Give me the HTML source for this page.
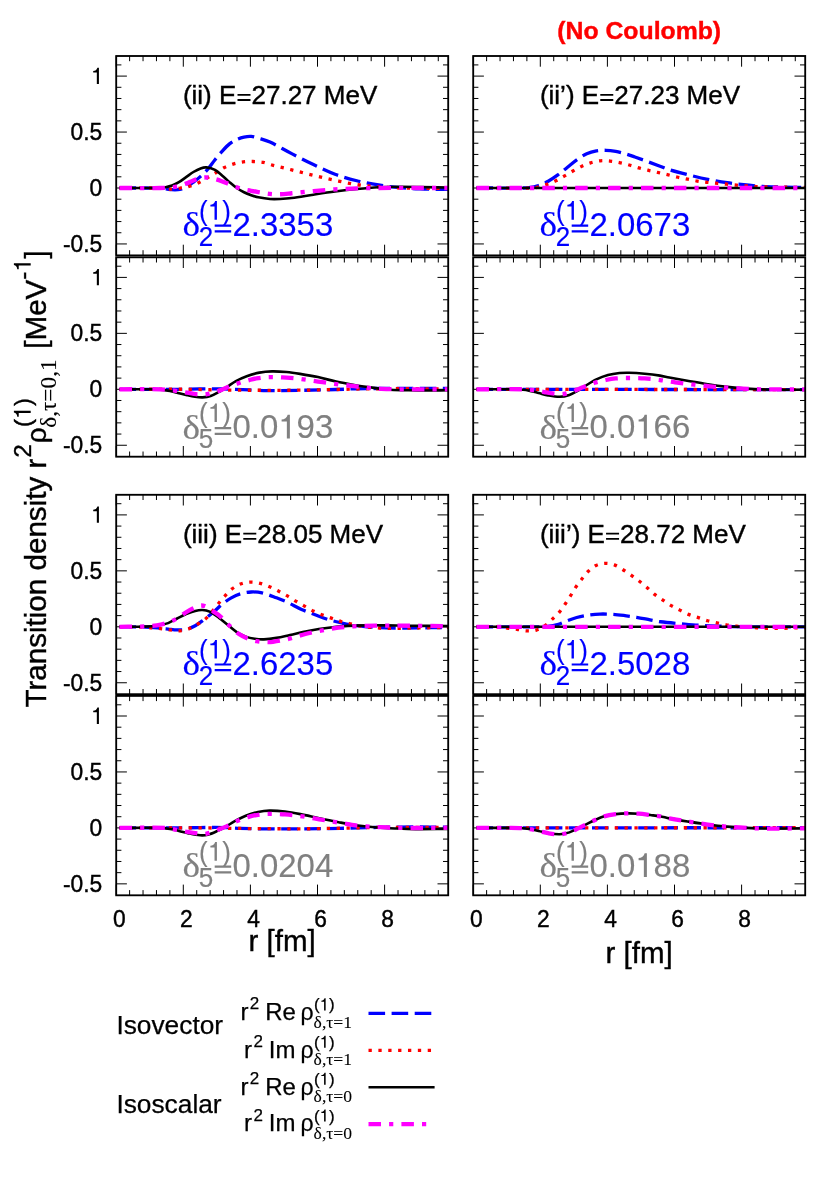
<!DOCTYPE html>
<html><head><meta charset="utf-8"><title>Transition density</title>
<style>html,body{margin:0;padding:0;background:#fff}svg{display:block;will-change:transform}text{white-space:pre;stroke:#000;stroke-width:.4px}.cb text{stroke:#0000ff}.cg text{stroke:#808080}.lg text{stroke-width:.25px}</style></head>
<body>
<svg width="830" height="1186" viewBox="0 0 830 1186">
<rect width="830" height="1186" fill="#fff"/>
<clipPath id="c00"><rect x="116.20" y="56.00" width="332.00" height="199.40"/></clipPath>
<path d="M116.20,56.00v10.70M116.20,255.40v-10.70M129.62,56.00v5.20M129.62,255.40v-5.20M143.04,56.00v5.20M143.04,255.40v-5.20M156.46,56.00v5.20M156.46,255.40v-5.20M169.88,56.00v5.20M169.88,255.40v-5.20M183.30,56.00v10.70M183.30,255.40v-10.70M196.72,56.00v5.20M196.72,255.40v-5.20M210.14,56.00v5.20M210.14,255.40v-5.20M223.56,56.00v5.20M223.56,255.40v-5.20M236.98,56.00v5.20M236.98,255.40v-5.20M250.40,56.00v10.70M250.40,255.40v-10.70M263.82,56.00v5.20M263.82,255.40v-5.20M277.24,56.00v5.20M277.24,255.40v-5.20M290.66,56.00v5.20M290.66,255.40v-5.20M304.08,56.00v5.20M304.08,255.40v-5.20M317.50,56.00v10.70M317.50,255.40v-10.70M330.92,56.00v5.20M330.92,255.40v-5.20M344.34,56.00v5.20M344.34,255.40v-5.20M357.76,56.00v5.20M357.76,255.40v-5.20M371.18,56.00v5.20M371.18,255.40v-5.20M384.60,56.00v10.70M384.60,255.40v-10.70M398.02,56.00v5.20M398.02,255.40v-5.20M411.44,56.00v5.20M411.44,255.40v-5.20M424.86,56.00v5.20M424.86,255.40v-5.20M438.28,56.00v5.20M438.28,255.40v-5.20M116.20,243.95h10.70M448.20,243.95h-10.70M116.20,232.76h5.20M448.20,232.76h-5.20M116.20,221.57h5.20M448.20,221.57h-5.20M116.20,210.38h5.20M448.20,210.38h-5.20M116.20,199.19h5.20M448.20,199.19h-5.20M116.20,188.00h10.70M448.20,188.00h-10.70M116.20,176.81h5.20M448.20,176.81h-5.20M116.20,165.62h5.20M448.20,165.62h-5.20M116.20,154.43h5.20M448.20,154.43h-5.20M116.20,143.24h5.20M448.20,143.24h-5.20M116.20,132.05h10.70M448.20,132.05h-10.70M116.20,120.86h5.20M448.20,120.86h-5.20M116.20,109.67h5.20M448.20,109.67h-5.20M116.20,98.48h5.20M448.20,98.48h-5.20M116.20,87.29h5.20M448.20,87.29h-5.20M116.20,76.10h10.70M448.20,76.10h-10.70M116.20,64.91h5.20M448.20,64.91h-5.20" stroke="#000" stroke-width="1" fill="none"/>
<g clip-path="url(#c00)" fill="none">
<path d="M119.50,188.00C126.33,188.00 133.17,187.96 140.00,188.00C146.00,188.03 152.00,188.02 158.00,188.22C160.67,188.32 163.33,188.61 166.00,188.90C167.90,189.10 169.80,189.55 171.70,189.68C173.80,189.82 175.90,189.84 178.00,189.68C179.33,189.58 180.67,189.28 182.00,188.90C183.37,188.50 184.73,188.13 186.10,187.33C188.53,185.90 190.97,184.02 193.40,182.18C195.80,180.37 198.20,178.53 200.60,176.36C203.00,174.20 205.40,171.96 207.80,169.20C210.20,166.44 212.60,162.80 215.00,159.80C217.43,156.76 219.87,153.74 222.30,151.07C224.70,148.44 227.10,145.83 229.50,143.91C231.90,141.99 234.30,140.68 236.70,139.55C239.13,138.40 241.57,137.61 244.00,137.09C246.40,136.57 248.80,136.23 251.20,136.41C253.60,136.60 256.00,137.48 258.40,138.20C262.27,139.38 266.13,140.33 270.00,142.12C277.23,145.48 284.47,149.92 291.70,153.65C298.93,157.38 306.17,161.06 313.40,164.50C320.60,167.92 327.80,171.54 335.00,174.24C342.27,176.95 349.53,178.93 356.80,180.73C364.03,182.51 371.27,183.82 378.50,184.98C385.67,186.13 392.83,186.99 400.00,187.66C406.67,188.29 413.33,188.64 420.00,188.90C427.83,189.20 435.67,189.22 443.50,189.34C445.07,189.37 446.63,189.34 448.20,189.34" stroke="#0000ff" stroke-width="3.30" stroke-dasharray="16.6 6.5"/>
<path d="M119.50,188.00C129.67,188.00 139.83,187.89 150.00,188.00C154.00,188.04 158.00,188.23 162.00,188.45C164.73,188.60 167.47,189.03 170.20,189.12C172.13,189.18 174.07,189.11 176.00,188.90C177.47,188.73 178.93,188.29 180.40,188.00C183.53,187.39 186.67,187.14 189.80,186.21C192.93,185.28 196.07,183.90 199.20,182.41C201.83,181.14 204.47,179.46 207.10,177.93C210.00,176.25 212.90,174.53 215.80,172.78C218.70,171.03 221.60,168.84 224.50,167.41C227.63,165.86 230.77,164.75 233.90,163.83C237.00,162.92 240.10,162.31 243.20,161.93C246.43,161.53 249.67,161.41 252.90,161.48C256.43,161.56 259.97,161.75 263.50,162.37C265.67,162.76 267.83,163.92 270.00,164.50C277.23,166.42 284.47,168.06 291.70,169.87C298.93,171.68 306.17,173.62 313.40,175.36C320.60,177.09 327.80,178.74 335.00,180.28C342.27,181.83 349.53,183.54 356.80,184.64C364.03,185.74 371.27,186.32 378.50,186.88C385.67,187.44 392.83,187.84 400.00,188.00C416.07,188.36 432.13,188.30 448.20,188.45" stroke="#ff0000" stroke-width="3.30" stroke-dasharray="3.3 6.57"/>
<path d="M119.50,188.00C129.67,188.00 139.83,188.06 150.00,188.00C153.33,187.98 156.67,187.94 160.00,187.78C161.83,187.68 163.67,187.56 165.50,187.22C167.67,186.81 169.83,186.35 172.00,185.54C174.30,184.67 176.60,183.55 178.90,182.18C181.30,180.75 183.70,178.83 186.10,177.15C188.53,175.44 190.97,173.46 193.40,172.00C195.80,170.55 198.20,169.26 200.60,168.42C202.53,167.74 204.47,167.22 206.40,167.41C209.27,167.70 212.13,168.38 215.00,169.87C217.43,171.14 219.87,173.63 222.30,175.69C224.70,177.73 227.10,180.13 229.50,182.18C231.90,184.23 234.30,186.33 236.70,188.00C239.13,189.69 241.57,191.05 244.00,192.25C246.40,193.44 248.80,194.32 251.20,195.16C253.60,196.00 256.00,196.80 258.40,197.29C262.27,198.07 266.13,198.67 270.00,198.97C273.33,199.23 276.67,199.10 280.00,198.97C283.90,198.81 287.80,198.57 291.70,198.07C298.93,197.15 306.17,195.80 313.40,194.71C320.60,193.63 327.80,192.53 335.00,191.58C342.27,190.63 349.53,189.74 356.80,189.01C364.03,188.28 371.27,187.59 378.50,187.22C385.67,186.85 392.83,186.81 400.00,186.77C406.67,186.73 413.33,186.88 420.00,186.99C429.40,187.15 438.80,187.37 448.20,187.55" stroke="#000000" stroke-width="2.60"/>
<path d="M119.50,188.00C133.00,188.00 146.50,188.12 160.00,188.00C163.33,187.97 166.67,187.88 170.00,187.55C172.67,187.29 175.33,186.86 178.00,186.21C180.70,185.55 183.40,184.66 186.10,183.64C188.53,182.72 190.97,181.33 193.40,180.39C195.80,179.46 198.20,178.58 200.60,178.04C202.53,177.61 204.47,177.35 206.40,177.48C209.27,177.68 212.13,178.34 215.00,179.05C217.43,179.65 219.87,180.52 222.30,181.40C224.70,182.27 227.10,183.34 229.50,184.31C231.90,185.28 234.30,186.37 236.70,187.22C239.13,188.07 241.57,188.80 244.00,189.40C246.40,189.99 248.80,190.36 251.20,190.80C253.60,191.24 256.00,191.63 258.40,192.03C262.27,192.67 266.13,193.53 270.00,193.93C273.33,194.28 276.67,194.37 280.00,194.27C283.90,194.15 287.80,193.63 291.70,193.26C298.93,192.58 306.17,191.78 313.40,191.13C320.60,190.49 327.80,189.86 335.00,189.40C342.27,188.93 349.53,188.57 356.80,188.34C363.87,188.11 370.93,188.03 378.00,188.00C401.40,187.91 424.80,188.00 448.20,188.00" stroke="#ff00ff" stroke-width="4.30" stroke-dasharray="12.5 8.1 4.2 8.1"/>
</g>
<rect x="116.20" y="56.00" width="332.00" height="199.40" fill="none" stroke="#000" stroke-width="1.85"/>
<clipPath id="c01"><rect x="116.20" y="257.30" width="332.00" height="199.40"/></clipPath>
<path d="M116.20,257.30v10.70M116.20,456.70v-10.70M129.62,257.30v5.20M129.62,456.70v-5.20M143.04,257.30v5.20M143.04,456.70v-5.20M156.46,257.30v5.20M156.46,456.70v-5.20M169.88,257.30v5.20M169.88,456.70v-5.20M183.30,257.30v10.70M183.30,456.70v-10.70M196.72,257.30v5.20M196.72,456.70v-5.20M210.14,257.30v5.20M210.14,456.70v-5.20M223.56,257.30v5.20M223.56,456.70v-5.20M236.98,257.30v5.20M236.98,456.70v-5.20M250.40,257.30v10.70M250.40,456.70v-10.70M263.82,257.30v5.20M263.82,456.70v-5.20M277.24,257.30v5.20M277.24,456.70v-5.20M290.66,257.30v5.20M290.66,456.70v-5.20M304.08,257.30v5.20M304.08,456.70v-5.20M317.50,257.30v10.70M317.50,456.70v-10.70M330.92,257.30v5.20M330.92,456.70v-5.20M344.34,257.30v5.20M344.34,456.70v-5.20M357.76,257.30v5.20M357.76,456.70v-5.20M371.18,257.30v5.20M371.18,456.70v-5.20M384.60,257.30v10.70M384.60,456.70v-10.70M398.02,257.30v5.20M398.02,456.70v-5.20M411.44,257.30v5.20M411.44,456.70v-5.20M424.86,257.30v5.20M424.86,456.70v-5.20M438.28,257.30v5.20M438.28,456.70v-5.20M116.20,445.25h10.70M448.20,445.25h-10.70M116.20,434.06h5.20M448.20,434.06h-5.20M116.20,422.87h5.20M448.20,422.87h-5.20M116.20,411.68h5.20M448.20,411.68h-5.20M116.20,400.49h5.20M448.20,400.49h-5.20M116.20,389.30h10.70M448.20,389.30h-10.70M116.20,378.11h5.20M448.20,378.11h-5.20M116.20,366.92h5.20M448.20,366.92h-5.20M116.20,355.73h5.20M448.20,355.73h-5.20M116.20,344.54h5.20M448.20,344.54h-5.20M116.20,333.35h10.70M448.20,333.35h-10.70M116.20,322.16h5.20M448.20,322.16h-5.20M116.20,310.97h5.20M448.20,310.97h-5.20M116.20,299.78h5.20M448.20,299.78h-5.20M116.20,288.59h5.20M448.20,288.59h-5.20M116.20,277.40h10.70M448.20,277.40h-10.70M116.20,266.21h5.20M448.20,266.21h-5.20" stroke="#000" stroke-width="1" fill="none"/>
<g clip-path="url(#c01)" fill="none">
<path d="M119.50,389.30C139.67,389.30 159.83,389.41 180.00,389.30C186.67,389.26 193.33,388.92 200.00,388.85C207.33,388.77 214.67,388.76 222.00,388.85C226.33,388.91 230.67,389.13 235.00,389.30C240.00,389.50 245.00,389.77 250.00,389.97C256.00,390.22 262.00,390.60 268.00,390.64C278.67,390.71 289.33,390.48 300.00,390.31C312.00,390.11 324.00,389.85 336.00,389.52C342.00,389.36 348.00,389.02 354.00,388.85C360.00,388.68 366.00,388.59 372.00,388.52C381.33,388.40 390.67,388.29 400.00,388.29C416.07,388.29 432.13,388.44 448.20,388.52" stroke="#0000ff" stroke-width="3.30" stroke-dasharray="16.6 6.5"/>
<path d="M119.50,389.30C143.00,389.30 166.50,389.18 190.00,389.30C196.67,389.33 203.33,389.63 210.00,389.75C220.00,389.93 230.00,390.15 240.00,390.20C260.00,390.29 280.00,390.34 300.00,390.20C312.00,390.11 324.00,389.77 336.00,389.52C344.00,389.36 352.00,389.06 360.00,388.96C373.33,388.80 386.67,388.76 400.00,388.74C416.07,388.72 432.13,388.82 448.20,388.85" stroke="#ff0000" stroke-width="3.30" stroke-dasharray="3.3 6.57"/>
<path d="M119.50,389.30C129.67,389.30 139.83,389.17 150.00,389.30C154.33,389.36 158.67,389.50 163.00,389.86C165.33,390.06 167.67,390.49 170.00,390.98C172.67,391.54 175.33,392.33 178.00,392.99C181.03,393.75 184.07,394.55 187.10,395.23C189.73,395.82 192.37,396.43 195.00,396.80C197.50,397.14 200.00,397.48 202.50,397.36C205.20,397.22 207.90,396.93 210.60,396.01C213.60,394.99 216.60,393.19 219.60,391.54C222.03,390.20 224.47,388.62 226.90,387.06C229.90,385.15 232.90,382.78 235.90,381.13C239.50,379.16 243.10,377.51 246.70,376.21C250.93,374.68 255.17,373.43 259.40,372.63C263.60,371.83 267.80,371.48 272.00,371.40C276.83,371.30 281.67,371.64 286.50,372.07C291.00,372.46 295.50,373.14 300.00,373.86C306.00,374.82 312.00,375.82 318.00,377.10C324.03,378.39 330.07,380.27 336.10,381.58C342.13,382.88 348.17,383.93 354.20,384.94C360.23,385.94 366.27,386.75 372.30,387.62C375.30,388.06 378.30,388.50 381.30,388.85C384.33,389.21 387.37,389.58 390.40,389.75C396.40,390.07 402.40,390.18 408.40,390.31C414.43,390.44 420.47,390.53 426.50,390.53C433.73,390.53 440.97,390.38 448.20,390.31" stroke="#000000" stroke-width="2.60"/>
<path d="M119.50,389.30C133.00,389.30 146.50,388.97 160.00,389.30C164.83,389.42 169.67,390.03 174.50,390.64C179.30,391.26 184.10,392.19 188.90,392.99C191.27,393.39 193.63,393.94 196.00,394.22C198.00,394.46 200.00,394.56 202.00,394.56C203.67,394.56 205.33,394.59 207.00,394.22C211.20,393.29 215.40,392.08 219.60,390.64C222.03,389.81 224.47,388.36 226.90,387.40C230.50,385.97 234.10,384.65 237.70,383.48C241.93,382.11 246.17,380.88 250.40,379.79C253.10,379.09 255.80,378.48 258.50,378.11C262.40,377.58 266.30,377.17 270.20,377.10C275.63,377.02 281.07,377.34 286.50,377.66C291.00,377.93 295.50,378.33 300.00,378.89C306.00,379.64 312.00,380.72 318.00,381.58C324.03,382.44 330.07,383.28 336.10,384.04C342.13,384.81 348.17,385.44 354.20,386.17C359.03,386.75 363.87,387.48 368.70,387.96C372.90,388.37 377.10,388.67 381.30,388.85C387.53,389.12 393.77,389.26 400.00,389.30C416.07,389.41 432.13,389.30 448.20,389.30" stroke="#ff00ff" stroke-width="4.30" stroke-dasharray="12.5 8.1 4.2 8.1"/>
</g>
<rect x="116.20" y="257.30" width="332.00" height="199.40" fill="none" stroke="#000" stroke-width="1.85"/>
<clipPath id="c02"><rect x="116.20" y="494.80" width="332.00" height="199.40"/></clipPath>
<path d="M116.20,494.80v10.70M116.20,694.20v-10.70M129.62,494.80v5.20M129.62,694.20v-5.20M143.04,494.80v5.20M143.04,694.20v-5.20M156.46,494.80v5.20M156.46,694.20v-5.20M169.88,494.80v5.20M169.88,694.20v-5.20M183.30,494.80v10.70M183.30,694.20v-10.70M196.72,494.80v5.20M196.72,694.20v-5.20M210.14,494.80v5.20M210.14,694.20v-5.20M223.56,494.80v5.20M223.56,694.20v-5.20M236.98,494.80v5.20M236.98,694.20v-5.20M250.40,494.80v10.70M250.40,694.20v-10.70M263.82,494.80v5.20M263.82,694.20v-5.20M277.24,494.80v5.20M277.24,694.20v-5.20M290.66,494.80v5.20M290.66,694.20v-5.20M304.08,494.80v5.20M304.08,694.20v-5.20M317.50,494.80v10.70M317.50,694.20v-10.70M330.92,494.80v5.20M330.92,694.20v-5.20M344.34,494.80v5.20M344.34,694.20v-5.20M357.76,494.80v5.20M357.76,694.20v-5.20M371.18,494.80v5.20M371.18,694.20v-5.20M384.60,494.80v10.70M384.60,694.20v-10.70M398.02,494.80v5.20M398.02,694.20v-5.20M411.44,494.80v5.20M411.44,694.20v-5.20M424.86,494.80v5.20M424.86,694.20v-5.20M438.28,494.80v5.20M438.28,694.20v-5.20M116.20,682.75h10.70M448.20,682.75h-10.70M116.20,671.56h5.20M448.20,671.56h-5.20M116.20,660.37h5.20M448.20,660.37h-5.20M116.20,649.18h5.20M448.20,649.18h-5.20M116.20,637.99h5.20M448.20,637.99h-5.20M116.20,626.80h10.70M448.20,626.80h-10.70M116.20,615.61h5.20M448.20,615.61h-5.20M116.20,604.42h5.20M448.20,604.42h-5.20M116.20,593.23h5.20M448.20,593.23h-5.20M116.20,582.04h5.20M448.20,582.04h-5.20M116.20,570.85h10.70M448.20,570.85h-10.70M116.20,559.66h5.20M448.20,559.66h-5.20M116.20,548.47h5.20M448.20,548.47h-5.20M116.20,537.28h5.20M448.20,537.28h-5.20M116.20,526.09h5.20M448.20,526.09h-5.20M116.20,514.90h10.70M448.20,514.90h-10.70M116.20,503.71h5.20M448.20,503.71h-5.20" stroke="#000" stroke-width="1" fill="none"/>
<g clip-path="url(#c02)" fill="none">
<path d="M119.50,626.80C128.00,626.87 136.50,626.78 145.00,627.02C149.33,627.15 153.67,627.54 158.00,627.92C161.37,628.21 164.73,628.68 168.10,629.04C171.10,629.35 174.10,629.88 177.10,629.93C180.10,629.99 183.10,630.06 186.10,629.37C189.13,628.68 192.17,627.46 195.20,625.79C198.20,624.14 201.20,621.66 204.20,619.41C207.23,617.15 210.27,614.82 213.30,612.25C216.30,609.71 219.30,606.49 222.30,604.08C225.30,601.68 228.30,599.52 231.30,597.82C234.33,596.09 237.37,594.68 240.40,593.79C244.00,592.74 247.60,592.15 251.20,592.00C254.80,591.85 258.40,592.07 262.00,592.89C266.83,594.01 271.67,596.03 276.50,597.82C280.13,599.16 283.77,600.61 287.40,602.29C292.13,604.49 296.87,607.33 301.60,609.46C306.10,611.47 310.60,613.02 315.10,614.71C319.60,616.41 324.10,618.25 328.60,619.64C333.07,621.01 337.53,621.98 342.00,623.00C345.87,623.88 349.73,624.76 353.60,625.35C358.07,626.03 362.53,626.46 367.00,626.80C373.33,627.28 379.67,627.60 386.00,627.81C392.33,628.01 398.67,628.05 405.00,628.03C413.33,628.01 421.67,627.80 430.00,627.70C436.07,627.62 442.13,627.55 448.20,627.47" stroke="#0000ff" stroke-width="3.30" stroke-dasharray="16.6 6.5"/>
<path d="M119.50,626.80C128.00,626.95 136.50,626.89 145.00,627.25C149.67,627.45 154.33,627.98 159.00,628.48C162.63,628.87 166.27,629.52 169.90,629.93C173.20,630.31 176.50,631.02 179.80,630.83C182.83,630.65 185.87,629.96 188.90,628.81C191.90,627.68 194.90,625.87 197.90,624.00C200.90,622.14 203.90,620.63 206.90,617.62C210.83,613.69 214.77,607.91 218.70,603.19C220.80,600.67 222.90,598.16 225.00,595.92C227.40,593.35 229.80,590.55 232.20,588.75C235.23,586.48 238.27,584.81 241.30,583.72C244.47,582.58 247.63,582.10 250.80,582.04C253.93,581.98 257.07,582.59 260.20,583.38C263.53,584.23 266.87,585.55 270.20,586.96C273.20,588.24 276.20,589.88 279.20,591.44C281.93,592.86 284.67,594.31 287.40,595.92C290.20,597.56 293.00,599.51 295.80,601.17C298.70,602.90 301.60,604.47 304.50,606.10C307.37,607.71 310.23,609.48 313.10,610.91C316.00,612.35 318.90,613.56 321.80,614.71C325.00,615.99 328.20,617.05 331.40,618.18C334.63,619.33 337.87,620.58 341.10,621.54C344.17,622.45 347.23,623.05 350.30,623.78C353.33,624.50 356.37,625.37 359.40,625.90C362.93,626.53 366.47,626.88 370.00,627.25C373.20,627.58 376.40,627.87 379.60,628.03C383.07,628.21 386.53,628.24 390.00,628.25C396.67,628.28 403.33,628.24 410.00,628.14C416.67,628.05 423.33,627.83 430.00,627.70C436.07,627.57 442.13,627.47 448.20,627.36" stroke="#ff0000" stroke-width="3.30" stroke-dasharray="3.3 6.57"/>
<path d="M119.50,626.80C128.00,626.73 136.50,626.87 145.00,626.58C149.33,626.43 153.67,626.11 158.00,625.46C161.37,624.95 164.73,624.33 168.10,623.11C171.10,622.02 174.10,620.03 177.10,618.52C180.10,617.01 183.10,615.30 186.10,614.04C189.13,612.77 192.17,611.66 195.20,610.91C197.60,610.32 200.00,609.88 202.40,610.01C204.80,610.15 207.20,610.57 209.60,611.69C212.63,613.11 215.67,615.41 218.70,617.62C221.70,619.81 224.70,622.49 227.70,624.90C230.70,627.30 233.70,630.11 236.70,632.06C239.73,634.03 242.77,635.52 245.80,636.65C248.80,637.76 251.80,638.33 254.80,638.77C257.83,639.22 260.87,639.46 263.90,639.33C268.10,639.16 272.30,638.58 276.50,637.88C281.00,637.13 285.50,635.95 290.00,634.97C296.43,633.56 302.87,631.93 309.30,630.72C315.73,629.50 322.17,628.50 328.60,627.70C335.00,626.90 341.40,626.30 347.80,625.90C354.23,625.51 360.67,625.44 367.10,625.35C373.53,625.25 379.97,625.29 386.40,625.35C392.83,625.40 399.27,625.60 405.70,625.68C419.87,625.86 434.03,625.98 448.20,626.13" stroke="#000000" stroke-width="2.60"/>
<path d="M119.50,626.80C128.00,626.65 136.50,626.81 145.00,626.35C150.27,626.07 155.53,625.68 160.80,624.56C165.03,623.66 169.27,622.37 173.50,620.31C177.70,618.27 181.90,614.80 186.10,612.25C188.53,610.78 190.97,609.36 193.40,608.22C195.77,607.12 198.13,605.83 200.50,605.54C202.33,605.31 204.17,605.82 206.00,606.66C208.43,607.76 210.87,609.72 213.30,611.36C215.40,612.77 217.50,613.99 219.60,615.83C222.30,618.20 225.00,621.44 227.70,624.00C231.33,627.45 234.97,631.21 238.60,633.85C241.60,636.03 244.60,637.23 247.60,638.44C250.60,639.65 253.60,640.51 256.60,641.12C259.40,641.70 262.20,641.90 265.00,642.02C267.63,642.13 270.27,642.15 272.90,641.79C278.33,641.07 283.77,640.08 289.20,638.77C294.60,637.47 300.00,635.34 305.40,633.96C310.53,632.65 315.67,631.70 320.80,630.72C326.60,629.61 332.40,628.47 338.20,627.70C343.33,627.01 348.47,626.63 353.60,626.35C360.73,625.96 367.87,625.78 375.00,625.68C383.33,625.56 391.67,625.63 400.00,625.68C416.07,625.78 432.13,625.98 448.20,626.13" stroke="#ff00ff" stroke-width="4.30" stroke-dasharray="12.5 8.1 4.2 8.1"/>
</g>
<rect x="116.20" y="494.80" width="332.00" height="199.40" fill="none" stroke="#000" stroke-width="1.85"/>
<clipPath id="c03"><rect x="116.20" y="695.90" width="332.00" height="199.40"/></clipPath>
<path d="M116.20,695.90v10.70M116.20,895.30v-10.70M129.62,695.90v5.20M129.62,895.30v-5.20M143.04,695.90v5.20M143.04,895.30v-5.20M156.46,695.90v5.20M156.46,895.30v-5.20M169.88,695.90v5.20M169.88,895.30v-5.20M183.30,695.90v10.70M183.30,895.30v-10.70M196.72,695.90v5.20M196.72,895.30v-5.20M210.14,695.90v5.20M210.14,895.30v-5.20M223.56,695.90v5.20M223.56,895.30v-5.20M236.98,695.90v5.20M236.98,895.30v-5.20M250.40,695.90v10.70M250.40,895.30v-10.70M263.82,695.90v5.20M263.82,895.30v-5.20M277.24,695.90v5.20M277.24,895.30v-5.20M290.66,695.90v5.20M290.66,895.30v-5.20M304.08,695.90v5.20M304.08,895.30v-5.20M317.50,695.90v10.70M317.50,895.30v-10.70M330.92,695.90v5.20M330.92,895.30v-5.20M344.34,695.90v5.20M344.34,895.30v-5.20M357.76,695.90v5.20M357.76,895.30v-5.20M371.18,695.90v5.20M371.18,895.30v-5.20M384.60,695.90v10.70M384.60,895.30v-10.70M398.02,695.90v5.20M398.02,895.30v-5.20M411.44,695.90v5.20M411.44,895.30v-5.20M424.86,695.90v5.20M424.86,895.30v-5.20M438.28,695.90v5.20M438.28,895.30v-5.20M116.20,883.85h10.70M448.20,883.85h-10.70M116.20,872.66h5.20M448.20,872.66h-5.20M116.20,861.47h5.20M448.20,861.47h-5.20M116.20,850.28h5.20M448.20,850.28h-5.20M116.20,839.09h5.20M448.20,839.09h-5.20M116.20,827.90h10.70M448.20,827.90h-10.70M116.20,816.71h5.20M448.20,816.71h-5.20M116.20,805.52h5.20M448.20,805.52h-5.20M116.20,794.33h5.20M448.20,794.33h-5.20M116.20,783.14h5.20M448.20,783.14h-5.20M116.20,771.95h10.70M448.20,771.95h-10.70M116.20,760.76h5.20M448.20,760.76h-5.20M116.20,749.57h5.20M448.20,749.57h-5.20M116.20,738.38h5.20M448.20,738.38h-5.20M116.20,727.19h5.20M448.20,727.19h-5.20M116.20,716.00h10.70M448.20,716.00h-10.70M116.20,704.81h5.20M448.20,704.81h-5.20" stroke="#000" stroke-width="1" fill="none"/>
<g clip-path="url(#c03)" fill="none">
<path d="M119.50,827.90C139.67,827.90 159.83,827.98 180.00,827.90C186.67,827.87 193.33,827.61 200.00,827.56C208.33,827.50 216.67,827.40 225.00,827.56C230.00,827.66 235.00,828.17 240.00,828.35C246.67,828.58 253.33,828.73 260.00,828.80C273.33,828.92 286.67,828.98 300.00,828.91C313.33,828.83 326.67,828.58 340.00,828.35C346.00,828.24 352.00,828.05 358.00,827.90C364.33,827.75 370.67,827.55 377.00,827.45C389.67,827.25 402.33,827.04 415.00,827.00C426.07,826.97 437.13,827.15 448.20,827.23" stroke="#0000ff" stroke-width="3.30" stroke-dasharray="16.6 6.5"/>
<path d="M119.50,827.90C146.33,827.90 173.17,827.78 200.00,827.90C213.33,827.96 226.67,828.34 240.00,828.46C260.00,828.64 280.00,828.84 300.00,828.80C313.33,828.77 326.67,828.47 340.00,828.24C352.33,828.02 364.67,827.55 377.00,827.45C400.73,827.26 424.47,827.38 448.20,827.34" stroke="#ff0000" stroke-width="3.30" stroke-dasharray="3.3 6.57"/>
<path d="M119.50,827.90C133.00,827.90 146.50,827.60 160.00,827.90C163.33,827.97 166.67,828.49 170.00,829.02C172.97,829.49 175.93,830.23 178.90,830.92C182.13,831.68 185.37,832.72 188.60,833.38C192.43,834.17 196.27,835.02 200.10,835.29C202.67,835.46 205.23,835.37 207.80,834.73C211.03,833.91 214.27,832.36 217.50,830.92C220.07,829.78 222.63,828.45 225.20,827.00C228.40,825.20 231.60,822.93 234.80,821.19C238.67,819.08 242.53,817.01 246.40,815.48C250.27,813.95 254.13,812.82 258.00,812.01C261.83,811.21 265.67,810.73 269.50,810.67C274.67,810.58 279.83,810.98 285.00,811.56C290.13,812.14 295.27,813.13 300.40,814.14C306.70,815.37 313.00,816.95 319.30,818.28C325.73,819.63 332.17,820.98 338.60,822.19C345.00,823.40 351.40,824.66 357.80,825.55C364.23,826.45 370.67,827.06 377.10,827.56C383.53,828.07 389.97,828.31 396.40,828.57C402.83,828.83 409.27,829.09 415.70,829.13C426.53,829.20 437.37,828.98 448.20,828.91" stroke="#000000" stroke-width="2.60"/>
<path d="M119.50,827.90C134.67,827.90 149.83,827.44 165.00,827.90C168.33,828.00 171.67,828.98 175.00,829.58C179.53,830.40 184.07,831.38 188.60,832.15C191.73,832.69 194.87,833.19 198.00,833.50C200.63,833.75 203.27,834.31 205.90,833.83C209.77,833.12 213.63,831.32 217.50,829.91C220.70,828.75 223.90,827.55 227.10,826.11C230.63,824.52 234.17,822.34 237.70,820.85C241.87,819.09 246.03,817.57 250.20,816.37C253.43,815.45 256.67,814.88 259.90,814.47C263.10,814.06 266.30,813.91 269.50,813.91C274.67,813.91 279.83,814.08 285.00,814.47C290.77,814.90 296.53,815.57 302.30,816.37C307.97,817.17 313.63,818.31 319.30,819.28C325.73,820.39 332.17,821.57 338.60,822.64C345.00,823.70 351.40,824.94 357.80,825.66C364.23,826.39 370.67,826.63 377.10,827.00C383.40,827.37 389.70,827.82 396.00,827.90C413.40,828.12 430.80,827.90 448.20,827.90" stroke="#ff00ff" stroke-width="4.30" stroke-dasharray="12.5 8.1 4.2 8.1"/>
</g>
<rect x="116.20" y="695.90" width="332.00" height="199.40" fill="none" stroke="#000" stroke-width="1.85"/>
<clipPath id="c10"><rect x="473.20" y="56.00" width="332.00" height="199.40"/></clipPath>
<path d="M473.20,56.00v10.70M473.20,255.40v-10.70M486.62,56.00v5.20M486.62,255.40v-5.20M500.04,56.00v5.20M500.04,255.40v-5.20M513.46,56.00v5.20M513.46,255.40v-5.20M526.88,56.00v5.20M526.88,255.40v-5.20M540.30,56.00v10.70M540.30,255.40v-10.70M553.72,56.00v5.20M553.72,255.40v-5.20M567.14,56.00v5.20M567.14,255.40v-5.20M580.56,56.00v5.20M580.56,255.40v-5.20M593.98,56.00v5.20M593.98,255.40v-5.20M607.40,56.00v10.70M607.40,255.40v-10.70M620.82,56.00v5.20M620.82,255.40v-5.20M634.24,56.00v5.20M634.24,255.40v-5.20M647.66,56.00v5.20M647.66,255.40v-5.20M661.08,56.00v5.20M661.08,255.40v-5.20M674.50,56.00v10.70M674.50,255.40v-10.70M687.92,56.00v5.20M687.92,255.40v-5.20M701.34,56.00v5.20M701.34,255.40v-5.20M714.76,56.00v5.20M714.76,255.40v-5.20M728.18,56.00v5.20M728.18,255.40v-5.20M741.60,56.00v10.70M741.60,255.40v-10.70M755.02,56.00v5.20M755.02,255.40v-5.20M768.44,56.00v5.20M768.44,255.40v-5.20M781.86,56.00v5.20M781.86,255.40v-5.20M795.28,56.00v5.20M795.28,255.40v-5.20M473.20,243.95h10.70M805.20,243.95h-10.70M473.20,232.76h5.20M805.20,232.76h-5.20M473.20,221.57h5.20M805.20,221.57h-5.20M473.20,210.38h5.20M805.20,210.38h-5.20M473.20,199.19h5.20M805.20,199.19h-5.20M473.20,188.00h10.70M805.20,188.00h-10.70M473.20,176.81h5.20M805.20,176.81h-5.20M473.20,165.62h5.20M805.20,165.62h-5.20M473.20,154.43h5.20M805.20,154.43h-5.20M473.20,143.24h5.20M805.20,143.24h-5.20M473.20,132.05h10.70M805.20,132.05h-10.70M473.20,120.86h5.20M805.20,120.86h-5.20M473.20,109.67h5.20M805.20,109.67h-5.20M473.20,98.48h5.20M805.20,98.48h-5.20M473.20,87.29h5.20M805.20,87.29h-5.20M473.20,76.10h10.70M805.20,76.10h-10.70M473.20,64.91h5.20M805.20,64.91h-5.20" stroke="#000" stroke-width="1" fill="none"/>
<g clip-path="url(#c10)" fill="none">
<path d="M476.50,188.00C491.00,188.00 505.50,188.09 520.00,188.00C522.97,187.98 525.93,188.06 528.90,187.66C532.13,187.24 535.37,186.61 538.60,185.54C541.80,184.48 545.00,183.06 548.20,181.29C551.40,179.51 554.60,177.25 557.80,174.91C561.03,172.55 564.27,169.75 567.50,167.19C570.70,164.64 573.90,161.82 577.10,159.58C580.30,157.34 583.50,155.21 586.70,153.76C589.93,152.30 593.17,151.43 596.40,150.85C599.60,150.27 602.80,150.20 606.00,150.29C609.23,150.38 612.47,150.83 615.70,151.41C618.90,151.98 622.10,152.83 625.30,153.76C628.50,154.69 631.70,155.89 634.90,157.00C638.13,158.13 641.37,159.29 644.60,160.47C649.73,162.35 654.87,164.25 660.00,166.18C663.10,167.35 666.20,168.81 669.30,169.76C675.73,171.72 682.17,173.30 688.60,174.91C695.00,176.51 701.40,178.08 707.80,179.38C714.23,180.69 720.67,181.81 727.10,182.74C733.53,183.67 739.97,184.34 746.40,184.98C752.83,185.61 759.27,186.19 765.70,186.55C772.10,186.90 778.50,186.96 784.90,187.10C791.67,187.26 798.43,187.33 805.20,187.44" stroke="#0000ff" stroke-width="3.30" stroke-dasharray="16.6 6.5"/>
<path d="M476.50,188.00C494.33,188.00 512.17,188.26 530.00,188.00C532.67,187.96 535.33,187.65 538.00,187.10C540.77,186.54 543.53,185.63 546.30,184.64C549.50,183.50 552.70,182.25 555.90,180.73C558.80,179.34 561.70,177.57 564.60,175.91C567.50,174.25 570.40,172.40 573.30,170.77C576.17,169.15 579.03,167.50 581.90,166.18C584.80,164.85 587.70,163.67 590.60,162.82C593.80,161.88 597.00,161.11 600.20,160.81C603.43,160.51 606.67,160.71 609.90,161.03C613.43,161.38 616.97,162.08 620.50,162.82C623.70,163.50 626.90,164.39 630.10,165.28C633.33,166.18 636.57,167.31 639.80,168.19C643.00,169.07 646.20,169.79 649.40,170.54C652.50,171.28 655.60,171.95 658.70,172.67C661.90,173.41 665.10,174.15 668.30,174.91C671.53,175.68 674.77,176.55 678.00,177.26C681.20,177.96 684.40,178.53 687.60,179.16C690.80,179.79 694.00,180.54 697.20,181.06C700.43,181.59 703.67,181.94 706.90,182.29C710.43,182.68 713.97,182.97 717.50,183.30C720.67,183.60 723.83,183.88 727.00,184.20C730.23,184.52 733.47,184.92 736.70,185.20C739.93,185.48 743.17,185.65 746.40,185.87C749.60,186.10 752.80,186.39 756.00,186.55C760.67,186.77 765.33,186.91 770.00,186.99C781.73,187.21 793.47,187.29 805.20,187.44" stroke="#ff0000" stroke-width="3.30" stroke-dasharray="3.3 6.57"/>
<path d="M476.50,188.00L805.20,188.00" stroke="#000000" stroke-width="2.60"/>
<path d="M476.50,188.00L805.20,188.00" stroke="#ff00ff" stroke-width="4.30" stroke-dasharray="12.5 8.1 4.2 8.1"/>
</g>
<rect x="473.20" y="56.00" width="332.00" height="199.40" fill="none" stroke="#000" stroke-width="1.85"/>
<clipPath id="c11"><rect x="473.20" y="257.30" width="332.00" height="199.40"/></clipPath>
<path d="M473.20,257.30v10.70M473.20,456.70v-10.70M486.62,257.30v5.20M486.62,456.70v-5.20M500.04,257.30v5.20M500.04,456.70v-5.20M513.46,257.30v5.20M513.46,456.70v-5.20M526.88,257.30v5.20M526.88,456.70v-5.20M540.30,257.30v10.70M540.30,456.70v-10.70M553.72,257.30v5.20M553.72,456.70v-5.20M567.14,257.30v5.20M567.14,456.70v-5.20M580.56,257.30v5.20M580.56,456.70v-5.20M593.98,257.30v5.20M593.98,456.70v-5.20M607.40,257.30v10.70M607.40,456.70v-10.70M620.82,257.30v5.20M620.82,456.70v-5.20M634.24,257.30v5.20M634.24,456.70v-5.20M647.66,257.30v5.20M647.66,456.70v-5.20M661.08,257.30v5.20M661.08,456.70v-5.20M674.50,257.30v10.70M674.50,456.70v-10.70M687.92,257.30v5.20M687.92,456.70v-5.20M701.34,257.30v5.20M701.34,456.70v-5.20M714.76,257.30v5.20M714.76,456.70v-5.20M728.18,257.30v5.20M728.18,456.70v-5.20M741.60,257.30v10.70M741.60,456.70v-10.70M755.02,257.30v5.20M755.02,456.70v-5.20M768.44,257.30v5.20M768.44,456.70v-5.20M781.86,257.30v5.20M781.86,456.70v-5.20M795.28,257.30v5.20M795.28,456.70v-5.20M473.20,445.25h10.70M805.20,445.25h-10.70M473.20,434.06h5.20M805.20,434.06h-5.20M473.20,422.87h5.20M805.20,422.87h-5.20M473.20,411.68h5.20M805.20,411.68h-5.20M473.20,400.49h5.20M805.20,400.49h-5.20M473.20,389.30h10.70M805.20,389.30h-10.70M473.20,378.11h5.20M805.20,378.11h-5.20M473.20,366.92h5.20M805.20,366.92h-5.20M473.20,355.73h5.20M805.20,355.73h-5.20M473.20,344.54h5.20M805.20,344.54h-5.20M473.20,333.35h10.70M805.20,333.35h-10.70M473.20,322.16h5.20M805.20,322.16h-5.20M473.20,310.97h5.20M805.20,310.97h-5.20M473.20,299.78h5.20M805.20,299.78h-5.20M473.20,288.59h5.20M805.20,288.59h-5.20M473.20,277.40h10.70M805.20,277.40h-10.70M473.20,266.21h5.20M805.20,266.21h-5.20" stroke="#000" stroke-width="1" fill="none"/>
<g clip-path="url(#c11)" fill="none">
<path d="M476.50,389.30L805.20,389.64" stroke="#0000ff" stroke-width="3.30" stroke-dasharray="16.6 6.5"/>
<path d="M476.50,389.30L805.20,389.64" stroke="#ff0000" stroke-width="3.30" stroke-dasharray="3.3 6.57"/>
<path d="M476.50,389.30C487.67,389.30 498.83,389.19 510.00,389.30C514.33,389.34 518.67,389.41 523.00,389.75C525.33,389.93 527.67,390.38 530.00,390.87C532.87,391.46 535.73,392.27 538.60,392.99C541.80,393.80 545.00,394.88 548.20,395.45C552.07,396.15 555.93,396.90 559.80,396.80C563.00,396.71 566.20,395.95 569.40,394.90C571.97,394.05 574.53,392.55 577.10,391.09C579.67,389.64 582.23,387.71 584.80,386.17C588.67,383.84 592.53,381.30 596.40,379.45C600.27,377.61 604.13,376.16 608.00,375.09C611.83,374.03 615.67,373.50 619.50,373.07C622.73,372.72 625.97,372.65 629.20,372.74C634.33,372.88 639.47,373.26 644.60,373.75C649.73,374.23 654.87,374.86 660.00,375.65C663.10,376.13 666.20,376.97 669.30,377.55C675.73,378.76 682.17,379.90 688.60,381.02C695.00,382.14 701.40,383.30 707.80,384.26C714.23,385.24 720.67,386.11 727.10,386.84C733.53,387.57 739.97,388.18 746.40,388.63C752.83,389.08 759.27,389.34 765.70,389.52C772.13,389.71 778.57,389.71 785.00,389.75C791.73,389.79 798.47,389.75 805.20,389.75" stroke="#000000" stroke-width="2.60"/>
<path d="M476.50,389.30C492.67,389.30 508.83,388.99 525.00,389.30C528.33,389.36 531.67,389.94 535.00,390.42C538.10,390.87 541.20,391.59 544.30,392.10C547.53,392.63 550.77,393.23 554.00,393.55C557.20,393.87 560.40,394.41 563.60,394.00C566.83,393.59 570.07,392.22 573.30,391.09C576.50,389.98 579.70,388.54 582.90,387.29C586.77,385.78 590.63,384.03 594.50,382.81C598.33,381.60 602.17,380.80 606.00,380.01C609.23,379.35 612.47,378.75 615.70,378.45C619.53,378.08 623.37,378.00 627.20,378.00C633.00,378.00 638.80,378.09 644.60,378.45C649.73,378.76 654.87,379.35 660.00,380.01C665.00,380.66 670.00,381.68 675.00,382.36C681.43,383.24 687.87,383.99 694.30,384.71C699.47,385.29 704.63,385.82 709.80,386.28C715.57,386.79 721.33,387.21 727.10,387.62C732.23,387.99 737.37,388.37 742.50,388.63C748.33,388.93 754.17,389.24 760.00,389.30C775.07,389.46 790.13,389.30 805.20,389.30" stroke="#ff00ff" stroke-width="4.30" stroke-dasharray="12.5 8.1 4.2 8.1"/>
</g>
<rect x="473.20" y="257.30" width="332.00" height="199.40" fill="none" stroke="#000" stroke-width="1.85"/>
<clipPath id="c12"><rect x="473.20" y="494.80" width="332.00" height="199.40"/></clipPath>
<path d="M473.20,494.80v10.70M473.20,694.20v-10.70M486.62,494.80v5.20M486.62,694.20v-5.20M500.04,494.80v5.20M500.04,694.20v-5.20M513.46,494.80v5.20M513.46,694.20v-5.20M526.88,494.80v5.20M526.88,694.20v-5.20M540.30,494.80v10.70M540.30,694.20v-10.70M553.72,494.80v5.20M553.72,694.20v-5.20M567.14,494.80v5.20M567.14,694.20v-5.20M580.56,494.80v5.20M580.56,694.20v-5.20M593.98,494.80v5.20M593.98,694.20v-5.20M607.40,494.80v10.70M607.40,694.20v-10.70M620.82,494.80v5.20M620.82,694.20v-5.20M634.24,494.80v5.20M634.24,694.20v-5.20M647.66,494.80v5.20M647.66,694.20v-5.20M661.08,494.80v5.20M661.08,694.20v-5.20M674.50,494.80v10.70M674.50,694.20v-10.70M687.92,494.80v5.20M687.92,694.20v-5.20M701.34,494.80v5.20M701.34,694.20v-5.20M714.76,494.80v5.20M714.76,694.20v-5.20M728.18,494.80v5.20M728.18,694.20v-5.20M741.60,494.80v10.70M741.60,694.20v-10.70M755.02,494.80v5.20M755.02,694.20v-5.20M768.44,494.80v5.20M768.44,694.20v-5.20M781.86,494.80v5.20M781.86,694.20v-5.20M795.28,494.80v5.20M795.28,694.20v-5.20M473.20,682.75h10.70M805.20,682.75h-10.70M473.20,671.56h5.20M805.20,671.56h-5.20M473.20,660.37h5.20M805.20,660.37h-5.20M473.20,649.18h5.20M805.20,649.18h-5.20M473.20,637.99h5.20M805.20,637.99h-5.20M473.20,626.80h10.70M805.20,626.80h-10.70M473.20,615.61h5.20M805.20,615.61h-5.20M473.20,604.42h5.20M805.20,604.42h-5.20M473.20,593.23h5.20M805.20,593.23h-5.20M473.20,582.04h5.20M805.20,582.04h-5.20M473.20,570.85h10.70M805.20,570.85h-10.70M473.20,559.66h5.20M805.20,559.66h-5.20M473.20,548.47h5.20M805.20,548.47h-5.20M473.20,537.28h5.20M805.20,537.28h-5.20M473.20,526.09h5.20M805.20,526.09h-5.20M473.20,514.90h10.70M805.20,514.90h-10.70M473.20,503.71h5.20M805.20,503.71h-5.20" stroke="#000" stroke-width="1" fill="none"/>
<g clip-path="url(#c12)" fill="none">
<path d="M476.50,626.80C497.67,626.80 518.83,626.90 540.00,626.80C542.60,626.79 545.20,626.80 547.80,626.46C551.03,626.05 554.27,625.52 557.50,624.56C560.70,623.62 563.90,621.93 567.10,620.76C570.30,619.58 573.50,618.40 576.70,617.51C579.93,616.61 583.17,615.87 586.40,615.39C590.90,614.71 595.40,614.21 599.90,614.04C604.40,613.88 608.90,614.10 613.40,614.38C617.23,614.62 621.07,615.13 624.90,615.61C628.77,616.10 632.63,616.64 636.50,617.29C641.00,618.04 645.50,618.97 650.00,619.81C653.50,620.46 657.00,621.32 660.50,621.76C667.33,622.64 674.17,623.16 681.00,623.78C687.83,624.39 694.67,625.05 701.50,625.46C708.33,625.87 715.17,626.03 722.00,626.24C729.67,626.48 737.33,626.75 745.00,626.80C765.07,626.93 785.13,626.80 805.20,626.80" stroke="#0000ff" stroke-width="3.30" stroke-dasharray="16.6 6.5"/>
<path d="M476.50,626.80C483.57,626.80 490.63,626.49 497.70,626.80C500.90,626.94 504.10,627.72 507.30,628.14C510.53,628.57 513.77,628.92 517.00,629.37C520.20,629.82 523.40,630.72 526.60,630.83C529.83,630.94 533.07,630.95 536.30,630.05C539.17,629.24 542.03,627.65 544.90,625.68C547.47,623.92 550.03,621.25 552.60,618.86C554.87,616.74 557.13,614.82 559.40,612.14C561.33,609.86 563.27,606.81 565.20,603.97C567.00,601.33 568.80,598.56 570.60,595.69C572.33,592.93 574.07,589.65 575.80,587.08C577.73,584.20 579.67,581.79 581.60,579.35C583.83,576.54 586.07,573.45 588.30,571.30C590.87,568.82 593.43,566.69 596.00,565.48C599.03,564.04 602.07,563.45 605.10,563.35C608.17,563.26 611.23,563.83 614.30,564.92C617.20,565.95 620.10,567.96 623.00,569.73C625.90,571.50 628.80,573.51 631.70,575.55C634.27,577.35 636.83,579.26 639.40,581.26C642.00,583.28 644.60,585.39 647.20,587.63C649.57,589.68 651.93,592.24 654.30,594.13C657.03,596.30 659.77,597.97 662.50,599.83C665.23,601.70 667.97,603.70 670.70,605.32C673.77,607.13 676.83,608.59 679.90,610.13C683.00,611.68 686.10,613.35 689.20,614.60C692.27,615.85 695.33,616.60 698.40,617.62C701.47,618.65 704.53,619.90 707.60,620.76C710.67,621.62 713.73,622.10 716.80,622.77C719.87,623.44 722.93,624.24 726.00,624.79C729.43,625.40 732.87,625.83 736.30,626.24C739.70,626.65 743.10,626.99 746.50,627.25C749.93,627.51 753.37,627.64 756.80,627.81C760.20,627.97 763.60,628.20 767.00,628.25C772.47,628.35 777.93,628.34 783.40,628.25C787.50,628.19 791.60,627.93 795.70,627.81C798.87,627.71 802.03,627.66 805.20,627.58" stroke="#ff0000" stroke-width="3.30" stroke-dasharray="3.3 6.57"/>
<path d="M476.50,626.80L805.20,626.80" stroke="#000000" stroke-width="2.60"/>
<path d="M476.50,626.80L805.20,626.80" stroke="#ff00ff" stroke-width="4.30" stroke-dasharray="12.5 8.1 4.2 8.1"/>
</g>
<rect x="473.20" y="494.80" width="332.00" height="199.40" fill="none" stroke="#000" stroke-width="1.85"/>
<clipPath id="c13"><rect x="473.20" y="695.90" width="332.00" height="199.40"/></clipPath>
<path d="M473.20,695.90v10.70M473.20,895.30v-10.70M486.62,695.90v5.20M486.62,895.30v-5.20M500.04,695.90v5.20M500.04,895.30v-5.20M513.46,695.90v5.20M513.46,895.30v-5.20M526.88,695.90v5.20M526.88,895.30v-5.20M540.30,695.90v10.70M540.30,895.30v-10.70M553.72,695.90v5.20M553.72,895.30v-5.20M567.14,695.90v5.20M567.14,895.30v-5.20M580.56,695.90v5.20M580.56,895.30v-5.20M593.98,695.90v5.20M593.98,895.30v-5.20M607.40,695.90v10.70M607.40,895.30v-10.70M620.82,695.90v5.20M620.82,895.30v-5.20M634.24,695.90v5.20M634.24,895.30v-5.20M647.66,695.90v5.20M647.66,895.30v-5.20M661.08,695.90v5.20M661.08,895.30v-5.20M674.50,695.90v10.70M674.50,895.30v-10.70M687.92,695.90v5.20M687.92,895.30v-5.20M701.34,695.90v5.20M701.34,895.30v-5.20M714.76,695.90v5.20M714.76,895.30v-5.20M728.18,695.90v5.20M728.18,895.30v-5.20M741.60,695.90v10.70M741.60,895.30v-10.70M755.02,695.90v5.20M755.02,895.30v-5.20M768.44,695.90v5.20M768.44,895.30v-5.20M781.86,695.90v5.20M781.86,895.30v-5.20M795.28,695.90v5.20M795.28,895.30v-5.20M473.20,883.85h10.70M805.20,883.85h-10.70M473.20,872.66h5.20M805.20,872.66h-5.20M473.20,861.47h5.20M805.20,861.47h-5.20M473.20,850.28h5.20M805.20,850.28h-5.20M473.20,839.09h5.20M805.20,839.09h-5.20M473.20,827.90h10.70M805.20,827.90h-10.70M473.20,816.71h5.20M805.20,816.71h-5.20M473.20,805.52h5.20M805.20,805.52h-5.20M473.20,794.33h5.20M805.20,794.33h-5.20M473.20,783.14h5.20M805.20,783.14h-5.20M473.20,771.95h10.70M805.20,771.95h-10.70M473.20,760.76h5.20M805.20,760.76h-5.20M473.20,749.57h5.20M805.20,749.57h-5.20M473.20,738.38h5.20M805.20,738.38h-5.20M473.20,727.19h5.20M805.20,727.19h-5.20M473.20,716.00h10.70M805.20,716.00h-10.70M473.20,704.81h5.20M805.20,704.81h-5.20" stroke="#000" stroke-width="1" fill="none"/>
<g clip-path="url(#c13)" fill="none">
<path d="M476.50,827.90L805.20,827.68" stroke="#0000ff" stroke-width="3.30" stroke-dasharray="16.6 6.5"/>
<path d="M476.50,827.90L805.20,827.68" stroke="#ff0000" stroke-width="3.30" stroke-dasharray="3.3 6.57"/>
<path d="M476.50,827.90C487.67,827.90 498.83,827.82 510.00,827.90C514.33,827.93 518.67,827.94 523.00,828.24C525.33,828.39 527.67,828.84 530.00,829.24C532.87,829.74 535.73,830.30 538.60,830.92C541.80,831.61 545.00,832.65 548.20,833.16C552.07,833.77 555.93,834.42 559.80,834.28C563.00,834.16 566.20,833.37 569.40,832.38C571.97,831.58 574.53,830.12 577.10,828.91C579.67,827.69 582.23,826.37 584.80,825.10C588.03,823.50 591.27,821.75 594.50,820.29C597.70,818.84 600.90,817.30 604.10,816.37C607.97,815.25 611.83,814.64 615.70,814.14C619.53,813.63 623.37,813.43 627.20,813.35C631.07,813.28 634.93,813.41 638.80,813.69C642.67,813.97 646.53,814.56 650.40,815.03C653.60,815.42 656.80,815.69 660.00,816.26C663.10,816.81 666.20,817.81 669.30,818.39C675.73,819.60 682.17,820.61 688.60,821.63C695.00,822.66 701.40,823.71 707.80,824.54C714.23,825.38 720.67,826.11 727.10,826.67C733.53,827.23 739.97,827.58 746.40,827.90C752.83,828.22 759.27,828.52 765.70,828.57C778.87,828.67 792.03,828.42 805.20,828.35" stroke="#000000" stroke-width="2.60"/>
<path d="M476.50,827.90C487.67,827.90 498.83,827.82 510.00,827.90C514.33,827.93 518.67,827.94 523.00,828.24C525.33,828.39 527.67,828.84 530.00,829.24C532.87,829.74 535.73,830.30 538.60,830.92C541.80,831.61 545.00,832.65 548.20,833.16C552.07,833.77 555.93,834.42 559.80,834.28C563.00,834.16 566.20,833.37 569.40,832.38C571.97,831.58 574.53,830.12 577.10,828.91C579.67,827.69 582.23,826.37 584.80,825.10C588.03,823.50 591.27,821.75 594.50,820.29C597.70,818.84 600.90,817.30 604.10,816.37C607.97,815.25 611.83,814.64 615.70,814.14C619.53,813.63 623.37,813.43 627.20,813.35C631.07,813.28 634.93,813.41 638.80,813.69C642.67,813.97 646.53,814.56 650.40,815.03C653.60,815.42 656.80,815.69 660.00,816.26C663.10,816.81 666.20,817.81 669.30,818.39C675.73,819.60 682.17,820.61 688.60,821.63C695.00,822.66 701.40,823.71 707.80,824.54C714.23,825.38 720.67,826.11 727.10,826.67C733.53,827.23 739.97,827.58 746.40,827.90C752.83,828.22 759.27,828.52 765.70,828.57C778.87,828.67 792.03,828.42 805.20,828.35" stroke="#ff00ff" stroke-width="4.30" stroke-dasharray="12.5 8.1 4.2 8.1"/>
</g>
<rect x="473.20" y="695.90" width="332.00" height="199.40" fill="none" stroke="#000" stroke-width="1.85"/>
<g font-family="Liberation Sans, sans-serif" font-size="22.8px" fill="#000">
<path d="M.26,-.505H.101V-.568C.19,-.568 .262,-.62 .285,-.709H.352V0H.26Z" transform="translate(90.9,84.00) scale(22.8,23.0)" stroke="none"/>
<text transform="translate(102.3,139.95) scale(1,1.04)" text-anchor="end">0.5</text>
<text transform="translate(102.3,195.90) scale(1,1.04)" text-anchor="end">0</text>
<text transform="translate(102.3,251.85) scale(1,1.04)" text-anchor="end">-0.5</text>
<path d="M.26,-.505H.101V-.568C.19,-.568 .262,-.62 .285,-.709H.352V0H.26Z" transform="translate(90.9,285.30) scale(22.8,23.0)" stroke="none"/>
<text transform="translate(102.3,341.25) scale(1,1.04)" text-anchor="end">0.5</text>
<text transform="translate(102.3,397.20) scale(1,1.04)" text-anchor="end">0</text>
<text transform="translate(102.3,453.15) scale(1,1.04)" text-anchor="end">-0.5</text>
<path d="M.26,-.505H.101V-.568C.19,-.568 .262,-.62 .285,-.709H.352V0H.26Z" transform="translate(90.9,522.80) scale(22.8,23.0)" stroke="none"/>
<text transform="translate(102.3,578.75) scale(1,1.04)" text-anchor="end">0.5</text>
<text transform="translate(102.3,634.70) scale(1,1.04)" text-anchor="end">0</text>
<text transform="translate(102.3,690.65) scale(1,1.04)" text-anchor="end">-0.5</text>
<path d="M.26,-.505H.101V-.568C.19,-.568 .262,-.62 .285,-.709H.352V0H.26Z" transform="translate(90.9,723.90) scale(22.8,23.0)" stroke="none"/>
<text transform="translate(102.3,779.85) scale(1,1.04)" text-anchor="end">0.5</text>
<text transform="translate(102.3,835.80) scale(1,1.04)" text-anchor="end">0</text>
<text transform="translate(102.3,891.75) scale(1,1.04)" text-anchor="end">-0.5</text>
<text transform="translate(119.30,926.6) scale(1,1.04)" text-anchor="middle">0</text>
<text transform="translate(186.40,926.6) scale(1,1.04)" text-anchor="middle">2</text>
<text transform="translate(253.50,926.6) scale(1,1.04)" text-anchor="middle">4</text>
<text transform="translate(320.60,926.6) scale(1,1.04)" text-anchor="middle">6</text>
<text transform="translate(387.70,926.6) scale(1,1.04)" text-anchor="middle">8</text>
<text transform="translate(476.30,926.6) scale(1,1.04)" text-anchor="middle">0</text>
<text transform="translate(543.40,926.6) scale(1,1.04)" text-anchor="middle">2</text>
<text transform="translate(610.50,926.6) scale(1,1.04)" text-anchor="middle">4</text>
<text transform="translate(677.60,926.6) scale(1,1.04)" text-anchor="middle">6</text>
<text transform="translate(744.70,926.6) scale(1,1.04)" text-anchor="middle">8</text>
</g>
<text font-family="Liberation Sans, sans-serif" font-size="26.0px" transform="translate(182.90,104.00) scale(1,1.000)">(ii) E</text>
<path d="M237.50,94.84h13.00M237.50,100.03h13.00" stroke="#000" stroke-width="1.87" fill="none"/>
<text font-family="Liberation Sans, sans-serif" font-size="26.0px" transform="translate(251.52,104.00) scale(1,1.000)">27.27 MeV</text>
<text font-family="Liberation Sans, sans-serif" font-size="26.0px" transform="translate(539.90,104.00) scale(1,1.000)">(ii’) E</text>
<path d="M600.28,94.84h13.00M600.28,100.03h13.00" stroke="#000" stroke-width="1.87" fill="none"/>
<text font-family="Liberation Sans, sans-serif" font-size="26.0px" transform="translate(614.29,104.00) scale(1,1.000)">27.23 MeV</text>
<text font-family="Liberation Sans, sans-serif" font-size="26.0px" transform="translate(182.90,542.80) scale(1,1.000)">(iii) E</text>
<path d="M243.28,533.63h13.00M243.28,538.83h13.00" stroke="#000" stroke-width="1.87" fill="none"/>
<text font-family="Liberation Sans, sans-serif" font-size="26.0px" transform="translate(257.29,542.80) scale(1,1.000)">28.05 MeV</text>
<text font-family="Liberation Sans, sans-serif" font-size="26.0px" transform="translate(539.90,542.80) scale(1,1.000)">(iii’) E</text>
<path d="M606.06,533.63h13.00M606.06,538.83h13.00" stroke="#000" stroke-width="1.87" fill="none"/>
<text font-family="Liberation Sans, sans-serif" font-size="26.0px" transform="translate(620.07,542.80) scale(1,1.000)">28.72 MeV</text>
<text font-family="Liberation Sans, sans-serif" font-size="24.8px" font-weight="bold" fill="#ff0000" style="stroke:#ff0000" x="639.2" y="38.9" text-anchor="middle">(No Coulomb)</text>
<g fill="#0000ff" class="cb">
<text font-family="Liberation Serif, serif" font-size="34.5px" style="stroke-width:.15px" transform="translate(182.50,236.30) scale(1.08,1)">δ</text>
<text font-family="Liberation Sans, sans-serif" font-size="26px" style="stroke-width:.15px" transform="translate(199.10,219.70) scale(1,1.030)">(</text>
<path d="M.26,-.505H.101V-.568C.19,-.568 .262,-.62 .285,-.709H.352V0H.26Z" transform="translate(207.76,219.70) scale(26.000,26.260)"/>
<text font-family="Liberation Sans, sans-serif" font-size="26px" style="stroke-width:.15px" transform="translate(222.21,219.70) scale(1,1.030)">)</text>
<text font-family="Liberation Sans, sans-serif" font-size="26px" style="stroke-width:.2px" transform="translate(198.70,245.80) scale(1,1.03)">2</text>
<path d="M214.69,225.70h16.50M214.69,231.40h16.50" stroke="#0000ff" stroke-width="2.20" fill="none"/>
<text font-family="Liberation Sans, sans-serif" font-size="33px" style="stroke-width:.15px" transform="translate(232.40,236.00) scale(1,1.020)">2.3353</text>
</g>
<g fill="#808080" class="cg">
<text font-family="Liberation Serif, serif" font-size="34.5px" style="stroke-width:.15px" transform="translate(182.50,438.70) scale(1.08,1)">δ</text>
<text font-family="Liberation Sans, sans-serif" font-size="26px" style="stroke-width:.15px" transform="translate(199.10,422.10) scale(1,1.030)">(</text>
<path d="M.26,-.505H.101V-.568C.19,-.568 .262,-.62 .285,-.709H.352V0H.26Z" transform="translate(207.76,422.10) scale(26.000,26.260)"/>
<text font-family="Liberation Sans, sans-serif" font-size="26px" style="stroke-width:.15px" transform="translate(222.21,422.10) scale(1,1.030)">)</text>
<text font-family="Liberation Sans, sans-serif" font-size="26px" style="stroke-width:.2px" transform="translate(198.70,448.20) scale(1,1.03)">5</text>
<path d="M214.69,428.10h16.50M214.69,433.80h16.50" stroke="#808080" stroke-width="2.20" fill="none"/>
<text font-family="Liberation Sans, sans-serif" font-size="33px" style="stroke-width:.15px" transform="translate(232.40,438.40) scale(1,1.020)">0.0</text>
<path d="M.26,-.505H.101V-.568C.19,-.568 .262,-.62 .285,-.709H.352V0H.26Z" transform="translate(278.27,438.40) scale(33.000,33.330)"/>
<text font-family="Liberation Sans, sans-serif" font-size="33px" style="stroke-width:.15px" transform="translate(296.62,438.40) scale(1,1.020)">93</text>
</g>
<g fill="#0000ff" class="cb">
<text font-family="Liberation Serif, serif" font-size="34.5px" style="stroke-width:.15px" transform="translate(182.50,675.10) scale(1.08,1)">δ</text>
<text font-family="Liberation Sans, sans-serif" font-size="26px" style="stroke-width:.15px" transform="translate(199.10,658.50) scale(1,1.030)">(</text>
<path d="M.26,-.505H.101V-.568C.19,-.568 .262,-.62 .285,-.709H.352V0H.26Z" transform="translate(207.76,658.50) scale(26.000,26.260)"/>
<text font-family="Liberation Sans, sans-serif" font-size="26px" style="stroke-width:.15px" transform="translate(222.21,658.50) scale(1,1.030)">)</text>
<text font-family="Liberation Sans, sans-serif" font-size="26px" style="stroke-width:.2px" transform="translate(198.70,684.60) scale(1,1.03)">2</text>
<path d="M214.69,664.50h16.50M214.69,670.20h16.50" stroke="#0000ff" stroke-width="2.20" fill="none"/>
<text font-family="Liberation Sans, sans-serif" font-size="33px" style="stroke-width:.15px" transform="translate(232.40,674.80) scale(1,1.020)">2.6235</text>
</g>
<g fill="#808080" class="cg">
<text font-family="Liberation Serif, serif" font-size="34.5px" style="stroke-width:.15px" transform="translate(182.50,877.30) scale(1.08,1)">δ</text>
<text font-family="Liberation Sans, sans-serif" font-size="26px" style="stroke-width:.15px" transform="translate(199.10,860.70) scale(1,1.030)">(</text>
<path d="M.26,-.505H.101V-.568C.19,-.568 .262,-.62 .285,-.709H.352V0H.26Z" transform="translate(207.76,860.70) scale(26.000,26.260)"/>
<text font-family="Liberation Sans, sans-serif" font-size="26px" style="stroke-width:.15px" transform="translate(222.21,860.70) scale(1,1.030)">)</text>
<text font-family="Liberation Sans, sans-serif" font-size="26px" style="stroke-width:.2px" transform="translate(198.70,886.80) scale(1,1.03)">5</text>
<path d="M214.69,866.70h16.50M214.69,872.40h16.50" stroke="#808080" stroke-width="2.20" fill="none"/>
<text font-family="Liberation Sans, sans-serif" font-size="33px" style="stroke-width:.15px" transform="translate(232.40,877.00) scale(1,1.020)">0.0204</text>
</g>
<g fill="#0000ff" class="cb">
<text font-family="Liberation Serif, serif" font-size="34.5px" style="stroke-width:.15px" transform="translate(539.50,236.30) scale(1.08,1)">δ</text>
<text font-family="Liberation Sans, sans-serif" font-size="26px" style="stroke-width:.15px" transform="translate(556.10,219.70) scale(1,1.030)">(</text>
<path d="M.26,-.505H.101V-.568C.19,-.568 .262,-.62 .285,-.709H.352V0H.26Z" transform="translate(564.76,219.70) scale(26.000,26.260)"/>
<text font-family="Liberation Sans, sans-serif" font-size="26px" style="stroke-width:.15px" transform="translate(579.21,219.70) scale(1,1.030)">)</text>
<text font-family="Liberation Sans, sans-serif" font-size="26px" style="stroke-width:.2px" transform="translate(555.70,245.80) scale(1,1.03)">2</text>
<path d="M571.69,225.70h16.50M571.69,231.40h16.50" stroke="#0000ff" stroke-width="2.20" fill="none"/>
<text font-family="Liberation Sans, sans-serif" font-size="33px" style="stroke-width:.15px" transform="translate(589.40,236.00) scale(1,1.020)">2.0673</text>
</g>
<g fill="#808080" class="cg">
<text font-family="Liberation Serif, serif" font-size="34.5px" style="stroke-width:.15px" transform="translate(539.50,438.70) scale(1.08,1)">δ</text>
<text font-family="Liberation Sans, sans-serif" font-size="26px" style="stroke-width:.15px" transform="translate(556.10,422.10) scale(1,1.030)">(</text>
<path d="M.26,-.505H.101V-.568C.19,-.568 .262,-.62 .285,-.709H.352V0H.26Z" transform="translate(564.76,422.10) scale(26.000,26.260)"/>
<text font-family="Liberation Sans, sans-serif" font-size="26px" style="stroke-width:.15px" transform="translate(579.21,422.10) scale(1,1.030)">)</text>
<text font-family="Liberation Sans, sans-serif" font-size="26px" style="stroke-width:.2px" transform="translate(555.70,448.20) scale(1,1.03)">5</text>
<path d="M571.69,428.10h16.50M571.69,433.80h16.50" stroke="#808080" stroke-width="2.20" fill="none"/>
<text font-family="Liberation Sans, sans-serif" font-size="33px" style="stroke-width:.15px" transform="translate(589.40,438.40) scale(1,1.020)">0.0</text>
<path d="M.26,-.505H.101V-.568C.19,-.568 .262,-.62 .285,-.709H.352V0H.26Z" transform="translate(635.27,438.40) scale(33.000,33.330)"/>
<text font-family="Liberation Sans, sans-serif" font-size="33px" style="stroke-width:.15px" transform="translate(653.62,438.40) scale(1,1.020)">66</text>
</g>
<g fill="#0000ff" class="cb">
<text font-family="Liberation Serif, serif" font-size="34.5px" style="stroke-width:.15px" transform="translate(539.50,675.10) scale(1.08,1)">δ</text>
<text font-family="Liberation Sans, sans-serif" font-size="26px" style="stroke-width:.15px" transform="translate(556.10,658.50) scale(1,1.030)">(</text>
<path d="M.26,-.505H.101V-.568C.19,-.568 .262,-.62 .285,-.709H.352V0H.26Z" transform="translate(564.76,658.50) scale(26.000,26.260)"/>
<text font-family="Liberation Sans, sans-serif" font-size="26px" style="stroke-width:.15px" transform="translate(579.21,658.50) scale(1,1.030)">)</text>
<text font-family="Liberation Sans, sans-serif" font-size="26px" style="stroke-width:.2px" transform="translate(555.70,684.60) scale(1,1.03)">2</text>
<path d="M571.69,664.50h16.50M571.69,670.20h16.50" stroke="#0000ff" stroke-width="2.20" fill="none"/>
<text font-family="Liberation Sans, sans-serif" font-size="33px" style="stroke-width:.15px" transform="translate(589.40,674.80) scale(1,1.020)">2.5028</text>
</g>
<g fill="#808080" class="cg">
<text font-family="Liberation Serif, serif" font-size="34.5px" style="stroke-width:.15px" transform="translate(539.50,877.30) scale(1.08,1)">δ</text>
<text font-family="Liberation Sans, sans-serif" font-size="26px" style="stroke-width:.15px" transform="translate(556.10,860.70) scale(1,1.030)">(</text>
<path d="M.26,-.505H.101V-.568C.19,-.568 .262,-.62 .285,-.709H.352V0H.26Z" transform="translate(564.76,860.70) scale(26.000,26.260)"/>
<text font-family="Liberation Sans, sans-serif" font-size="26px" style="stroke-width:.15px" transform="translate(579.21,860.70) scale(1,1.030)">)</text>
<text font-family="Liberation Sans, sans-serif" font-size="26px" style="stroke-width:.2px" transform="translate(555.70,886.80) scale(1,1.03)">5</text>
<path d="M571.69,866.70h16.50M571.69,872.40h16.50" stroke="#808080" stroke-width="2.20" fill="none"/>
<text font-family="Liberation Sans, sans-serif" font-size="33px" style="stroke-width:.15px" transform="translate(589.40,877.00) scale(1,1.020)">0.0</text>
<path d="M.26,-.505H.101V-.568C.19,-.568 .262,-.62 .285,-.709H.352V0H.26Z" transform="translate(635.27,877.00) scale(33.000,33.330)"/>
<text font-family="Liberation Sans, sans-serif" font-size="33px" style="stroke-width:.15px" transform="translate(653.62,877.00) scale(1,1.020)">88</text>
</g>
<text font-family="Liberation Sans, sans-serif" font-size="29.5px" x="282.20" y="950.9" text-anchor="middle">r [fm]</text>
<text font-family="Liberation Sans, sans-serif" font-size="29.5px" x="639.20" y="962.5" text-anchor="middle">r [fm]</text>
<g transform="translate(45.9,707.6) rotate(-90)">
<text font-family="Liberation Sans, sans-serif" font-size="29.6px" x="0" y="0">Transition density r</text>
<text font-family="Liberation Sans, sans-serif" font-size="23.7px" x="250.1" y="-15.2">2</text>
<text font-family="Liberation Sans, sans-serif" font-size="28px" x="264.4" y="0">ρ</text>
<text font-family="Liberation Sans, sans-serif" font-size="23.7px"  transform="translate(280.50,-15.20) scale(1,1.000)">(</text>
<path d="M.26,-.505H.101V-.568C.19,-.568 .262,-.62 .285,-.709H.352V0H.26Z" transform="translate(288.39,-15.20) scale(23.700,23.700)"/>
<text font-family="Liberation Sans, sans-serif" font-size="23.7px"  transform="translate(301.57,-15.20) scale(1,1.000)">)</text>
<text font-family="Liberation Serif, serif" font-size="23.3px" style="stroke-width:.1px" x="279.8" y="9.8">δ,τ=0,1</text>
<text font-family="Liberation Sans, sans-serif" font-size="29.6px" x="358.9" y="0">[MeV</text>
<text font-family="Liberation Sans, sans-serif" font-size="23.7px"  transform="translate(428.00,-15.20) scale(1,1.000)">-</text>
<path d="M.26,-.505H.101V-.568C.19,-.568 .262,-.62 .285,-.709H.352V0H.26Z" transform="translate(435.89,-15.20) scale(23.700,23.700)"/>
<text font-family="Liberation Sans, sans-serif" font-size="29.6px" x="449.1" y="0">]</text>
</g>
<g class="lg">
<text font-family="Liberation Sans, sans-serif" font-size="26.3px" x="116.4" y="1034">Isovector</text>
<text font-family="Liberation Sans, sans-serif" font-size="26.3px" x="116.4" y="1113">Isoscalar</text>
<text font-family="Liberation Sans, sans-serif" font-size="24.0px" x="240.40" y="1020.20">r</text>
<text font-family="Liberation Sans, sans-serif" font-size="17px" x="249.70" y="1009.40">2</text>
<text font-family="Liberation Sans, sans-serif" font-size="24.0px" x="265.20" y="1020.20">Re</text>
<text font-family="Liberation Sans, sans-serif" font-size="23px" x="300.4" y="1020.20">ρ</text>
<text font-family="Liberation Sans, sans-serif" font-size="17px"  transform="translate(314.00,1010.40) scale(1,1.000)">(</text>
<path d="M.26,-.505H.101V-.568C.19,-.568 .262,-.62 .285,-.709H.352V0H.26Z" transform="translate(319.66,1010.40) scale(17.000,17.000)"/>
<text font-family="Liberation Sans, sans-serif" font-size="17px"  transform="translate(329.11,1010.40) scale(1,1.000)">)</text>
<text font-family="Liberation Serif, serif" font-size="17.6px" style="stroke-width:.1px" x="313.6" y="1027.50">δ,τ=1</text>
<path d="M368.5,1013.45H431.40" stroke="#0000ff" stroke-width="3.30" stroke-dasharray="16.6 6.5" fill="none"/>
<text font-family="Liberation Sans, sans-serif" font-size="24.0px" x="244.10" y="1057.60">r</text>
<text font-family="Liberation Sans, sans-serif" font-size="17px" x="253.40" y="1046.80">2</text>
<text font-family="Liberation Sans, sans-serif" font-size="24.0px" x="268.80" y="1057.60">Im</text>
<text font-family="Liberation Sans, sans-serif" font-size="23px" x="300.4" y="1057.60">ρ</text>
<text font-family="Liberation Sans, sans-serif" font-size="17px"  transform="translate(314.00,1047.80) scale(1,1.000)">(</text>
<path d="M.26,-.505H.101V-.568C.19,-.568 .262,-.62 .285,-.709H.352V0H.26Z" transform="translate(319.66,1047.80) scale(17.000,17.000)"/>
<text font-family="Liberation Sans, sans-serif" font-size="17px"  transform="translate(329.11,1047.80) scale(1,1.000)">)</text>
<text font-family="Liberation Serif, serif" font-size="17.6px" style="stroke-width:.1px" x="313.6" y="1064.90">δ,τ=1</text>
<path d="M368.5,1050.35H431.40" stroke="#ff0000" stroke-width="3.30" stroke-dasharray="3.3 6.57" fill="none"/>
<text font-family="Liberation Sans, sans-serif" font-size="24.0px" x="240.40" y="1094.50">r</text>
<text font-family="Liberation Sans, sans-serif" font-size="17px" x="249.70" y="1083.70">2</text>
<text font-family="Liberation Sans, sans-serif" font-size="24.0px" x="265.20" y="1094.50">Re</text>
<text font-family="Liberation Sans, sans-serif" font-size="23px" x="300.4" y="1094.50">ρ</text>
<text font-family="Liberation Sans, sans-serif" font-size="17px"  transform="translate(314.00,1084.70) scale(1,1.000)">(</text>
<path d="M.26,-.505H.101V-.568C.19,-.568 .262,-.62 .285,-.709H.352V0H.26Z" transform="translate(319.66,1084.70) scale(17.000,17.000)"/>
<text font-family="Liberation Sans, sans-serif" font-size="17px"  transform="translate(329.11,1084.70) scale(1,1.000)">)</text>
<text font-family="Liberation Serif, serif" font-size="17.6px" style="stroke-width:.1px" x="313.6" y="1101.80">δ,τ=0</text>
<path d="M368.5,1087.25H434.60" stroke="#000000" stroke-width="2.60" fill="none"/>
<text font-family="Liberation Sans, sans-serif" font-size="24.0px" x="244.10" y="1131.30">r</text>
<text font-family="Liberation Sans, sans-serif" font-size="17px" x="253.40" y="1120.50">2</text>
<text font-family="Liberation Sans, sans-serif" font-size="24.0px" x="268.80" y="1131.30">Im</text>
<text font-family="Liberation Sans, sans-serif" font-size="23px" x="300.4" y="1131.30">ρ</text>
<text font-family="Liberation Sans, sans-serif" font-size="17px"  transform="translate(314.00,1121.50) scale(1,1.000)">(</text>
<path d="M.26,-.505H.101V-.568C.19,-.568 .262,-.62 .285,-.709H.352V0H.26Z" transform="translate(319.66,1121.50) scale(17.000,17.000)"/>
<text font-family="Liberation Sans, sans-serif" font-size="17px"  transform="translate(329.11,1121.50) scale(1,1.000)">)</text>
<text font-family="Liberation Serif, serif" font-size="17.6px" style="stroke-width:.1px" x="313.6" y="1138.60">δ,τ=0</text>
<path d="M368.5,1124.15H431.40" stroke="#ff00ff" stroke-width="4.30" stroke-dasharray="12.5 8.1 4.2 8.1" fill="none"/>
</g>
</svg>
</body></html>
